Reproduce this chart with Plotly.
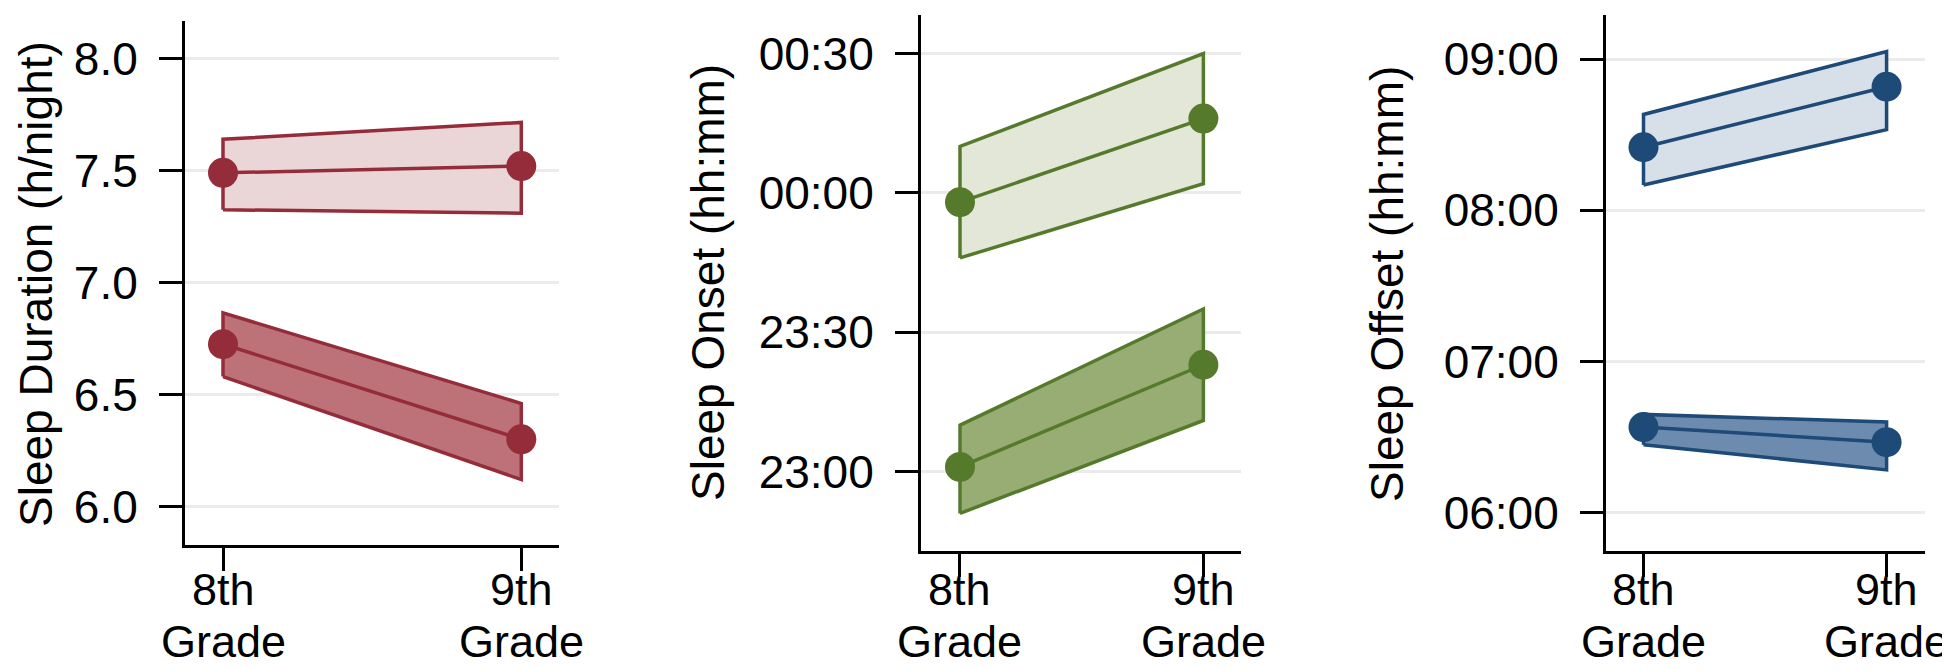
import plotly.graph_objects as go

# x categories (two grade levels)
grade_pos = [0, 1]
grade_labels = ["8th<br>Grade", "9th<br>Grade"]

# Sleep duration (h/night): mean and CI bounds, 8th -> 9th grade
dur_a_mean = [7.49, 7.52]
dur_a_lo = [7.325, 7.31]
dur_a_hi = [7.64, 7.715]
dur_b_mean = [6.725, 6.30]
dur_b_lo = [6.58, 6.12]
dur_b_hi = [6.865, 6.46]

# Sleep onset (clock time)
onset_a_mean = ["23:58", "00:16"]
onset_a_lo = ["23:46", "00:02"]
onset_a_hi = ["00:10", "00:30"]
onset_b_mean = ["23:01", "23:23"]
onset_b_lo = ["22:51", "23:11"]
onset_b_hi = ["23:10", "23:35"]

# Sleep offset (clock time)
offset_a_mean = ["08:25", "08:49"]
offset_a_lo = ["08:10", "08:32"]
offset_a_hi = ["08:38", "09:03"]
offset_b_mean = ["06:34", "06:28"]
offset_b_lo = ["06:27", "06:17"]
offset_b_hi = ["06:39", "06:36"]

dur_ticks = [6.0, 6.5, 7.0, 7.5, 8.0]
onset_ticks = ["23:00", "23:30", "00:00", "00:30"]
offset_ticks = ["06:00", "07:00", "08:00", "09:00"]


def onset_minutes(t):
    # minutes relative to midnight, evening times negative
    h, m = map(int, t.split(":"))
    v = h * 60 + m
    return v - 1440 if h >= 12 else v


def offset_hours(t):
    h, m = map(int, t.split(":"))
    return h + m / 60


W, H = 1950, 670
FONT = "Liberation Sans, Arial, sans-serif"

fig = go.Figure()


def add_group(n, mean, lo, hi, color, fill):
    xs = grade_pos + grade_pos[::-1] + grade_pos[:1]
    ys = lo + hi[::-1] + lo[:1]
    ax = "" if n == 1 else str(n)
    fig.add_trace(go.Scatter(
        x=xs, y=ys, mode="lines", fill="toself", fillcolor=fill,
        line=dict(color=color, width=3.5), xaxis="x" + ax, yaxis="y" + ax,
        showlegend=False, hoverinfo="skip",
    ))
    fig.add_trace(go.Scatter(
        x=grade_pos, y=mean, mode="lines+markers",
        line=dict(color=color, width=3.5),
        marker=dict(color=color, size=30),
        xaxis="x" + ax, yaxis="y" + ax, showlegend=False,
    ))


# panel 1 - duration (red)
red, red_lt, red_dk = "#952C3A", "#EBD6D7", "#BC7278"
add_group(1, dur_a_mean, dur_a_lo, dur_a_hi, red, red_lt)
add_group(1, dur_b_mean, dur_b_lo, dur_b_hi, red, red_dk)

# panel 2 - onset (green)
grn, grn_lt, grn_dk = "#567A2C", "#E2E7D8", "#98AD74"
conv = lambda arr: [onset_minutes(t) for t in arr]
add_group(2, conv(onset_a_mean), conv(onset_a_lo), conv(onset_a_hi), grn, grn_lt)
add_group(2, conv(onset_b_mean), conv(onset_b_lo), conv(onset_b_hi), grn, grn_dk)

# panel 3 - offset (blue)
blu, blu_lt, blu_dk = "#1D4A76", "#D7DFE9", "#6C8BAF"
convh = lambda arr: [offset_hours(t) for t in arr]
add_group(3, convh(offset_a_mean), convh(offset_a_lo), convh(offset_a_hi), blu, blu_lt)
add_group(3, convh(offset_b_mean), convh(offset_b_lo), convh(offset_b_hi), blu, blu_dk)

axis_common = dict(
    showline=True, linecolor="black", linewidth=3,
    ticks="outside", ticklen=23, tickwidth=3, tickcolor="black",
    zeroline=False, automargin=False,
)

# pixel geometry of each panel: (left, right, top, bottom)
boxes = [(177, 551, 13, 537), (913, 1233, 7, 543), (1598, 1917, 7, 543)]
xranges = [[-0.1274, 1.1264], [-0.1602, 1.1545], [-0.1542, 1.158]]
yranges = [[5.828, 8.168], [-77.1, 38.3], [5.747, 9.291]]
ytickvals = [dur_ticks, [onset_minutes(t) for t in onset_ticks],
             [offset_hours(t) for t in offset_ticks]]
yticktext = [[f"{v:.1f}" for v in dur_ticks], onset_ticks, offset_ticks]

for i in range(3):
    l, r, t, b = boxes[i]
    sfx = "" if i == 0 else str(i + 1)
    fig.layout["xaxis" + sfx] = dict(
        axis_common, domain=[l / W, r / W], range=xranges[i],
        anchor="y" + sfx, tickvals=grade_pos, showticklabels=False,
        showgrid=False,
    )
    fig.layout["yaxis" + sfx] = dict(
        axis_common, domain=[(H - b) / H, (H - t) / H], range=yranges[i],
        anchor="x" + sfx, tickvals=ytickvals[i], ticktext=yticktext[i],
        showgrid=True, gridcolor="#EBEBEB", gridwidth=2.5,
        ticklabelstandoff=12,
        tickfont=dict(family=FONT, size=46, color="black"),
    )
    # two-line grade labels under the x ticks (one annotation per line)
    for xv, lab in zip(grade_pos, grade_labels):
        for line, cy in zip(lab.split("<br>"), (581, 633)):
            fig.add_annotation(
                text=line, x=xv, xref="x" + sfx, y=(H - cy) / H, yref="paper",
                showarrow=False, xanchor="center", yanchor="middle",
                font=dict(family=FONT, size=45, color="black"),
            )

titles = [("Sleep Duration (h/night)", 28, 276),
          ("Sleep Onset (hh:mm)", 700, 275),
          ("Sleep Offset (hh:mm)", 1379, 276)]
for txt, cx, cy in titles:
    fig.add_annotation(
        text=txt, x=cx / W, y=(H - cy) / H, xref="paper", yref="paper",
        textangle=-90, showarrow=False, xanchor="center", yanchor="middle",
        borderpad=0, font=dict(family=FONT, size=46, color="black"),
    )

fig.update_layout(
    width=W, height=H, autosize=False,
    margin=dict(l=0, r=0, t=0, b=0),
    plot_bgcolor="white", paper_bgcolor="white",
    showlegend=False,
)

fig.write_html("out.html")
